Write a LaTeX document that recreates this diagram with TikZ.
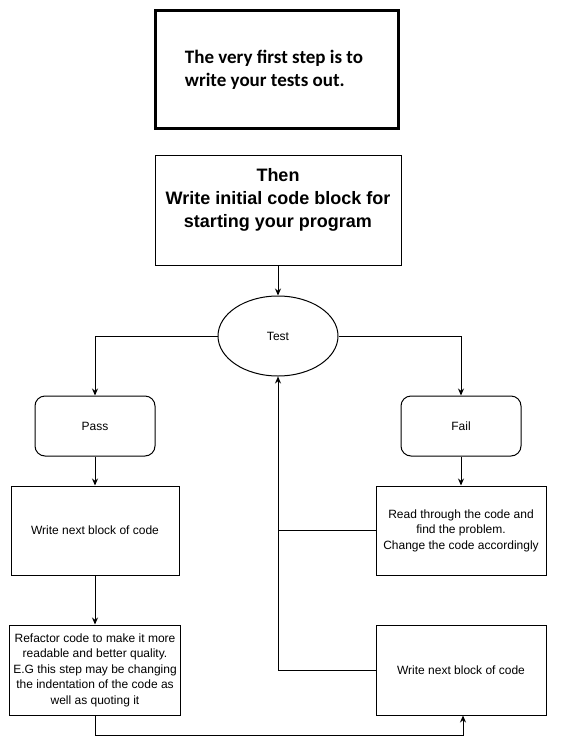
\documentclass[tikz,border=0pt]{standalone}
\usepackage{fontspec}
\setmainfont{Liberation Sans}
\newfontfamily\calibri{Carlito}
\usetikzlibrary{shapes.geometric,arrows.meta}

\begin{document}
\begin{tikzpicture}[x=1pt, y=1pt, >={Stealth[length=7pt,width=6pt]}, line width=1pt,
  box/.style={draw, rectangle, align=center, font=\fontsize{12}{15.5}\selectfont},
  roundbox/.style={box, rounded corners=10pt, minimum width=120pt, minimum height=60pt}]

\useasboundingbox (0,0) rectangle (565,-756);

% first steps
\node[draw, line width=3pt, minimum width=243pt, minimum height=118pt, align=left,
  font=\calibri\bfseries\fontsize{19}{23}\selectfont] (first) at (277,-69.5) {The very first step is to\hspace*{6pt}\\write your tests out.};
\node[draw, minimum width=246pt, minimum height=110pt] (code) at (278,-210) {};
\node[align=center, anchor=north, font=\bfseries\fontsize{18}{23}\selectfont] (codetext) at (278,-165) {Then\\Write initial code block for\\starting your program};

% test
\node[draw, ellipse, minimum width=120pt, minimum height=80pt, font=\fontsize{12}{15}\selectfont] (test) at (278,-336) {Test};
\draw[->] (code) -- (test);

% pass / fail
\node[roundbox] (pass) at (95,-426) {Pass};
\node[roundbox] (fail) at (461,-426) {Fail};
\draw[->] (test.west) -| (pass.north);
\draw[->] (test.east) -| (fail.north);

% next steps
\node[box, minimum width=168pt, minimum height=89pt] (nextL) at (95,-530.5) {Write next block of code};
\node[box, minimum width=170pt, minimum height=89pt] (read) at (461,-530.5) {Read through the code and\\find the problem.\\Change the code accordingly};
\node[box, minimum width=168pt, minimum height=90pt] (refactor) at (95,-670) {Refactor code to make it more\\readable and better quality.\\E.G this step may be changing\\the indentation of the code as\\well as quoting it};
\node[box, minimum width=170pt, minimum height=90pt] (nextR) at (461,-670) {Write next block of code};

\draw[->] (pass) -- (nextL);
\draw[->] (fail) -- (read);
\draw[->] (nextL) -- (refactor);

% back to test
\draw[->] (read.west) -| (test.south);
\draw (nextR.west) -| (read.west -| test.south);
\draw[->] (refactor.south) -- ++(0,-20) -| ([xshift=2pt]nextR.south);

\end{tikzpicture}
\end{document}
